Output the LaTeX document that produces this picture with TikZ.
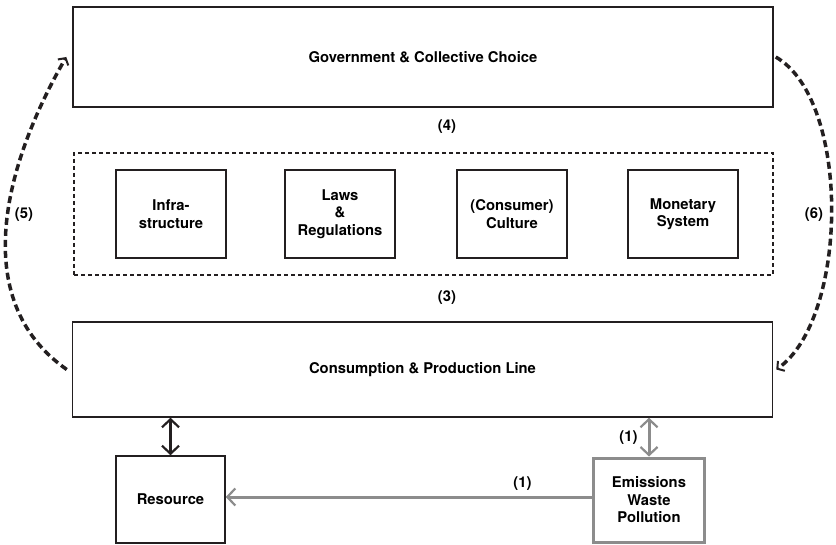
\documentclass[tikz,border=0pt]{standalone}
\usepackage{fontspec}
\setmainfont{TeX Gyre Heros}
\usetikzlibrary{arrows.meta}
\definecolor{ink}{RGB}{35,31,32}
\definecolor{ashgray}{RGB}{140,140,140}
\newcommand{\lblfont}{\fontsize{14.8}{17.5}\selectfont\bfseries}
\tikzset{
  barb/.tip={Straight Barb[length=8pt,width=17pt,line width=2.2pt]},
  bigbox/.style={draw=ink, line width=1.5pt, minimum width=700pt, font=\lblfont},
  groupbox/.style={draw=ink, line width=1.3pt, dash pattern=on 4pt off 3pt, minimum width=699pt, minimum height=122pt},
  smallbox/.style={draw=ink, line width=1.5pt, minimum width=110pt, minimum height=88pt, align=center, font=\lblfont},
  waste/.style={draw=ashgray, line width=3pt, minimum width=111pt, minimum height=84pt, align=center, font=\lblfont},
  tag/.style={font=\lblfont, inner sep=2pt},
  loopline/.style={draw=ink, line width=3.5pt, dash pattern=on 7pt off 4pt, -{Straight Barb[length=5pt,width=12pt,line width=2pt]}},
  resarrow/.style={draw=ink, line width=2.5pt, barb-barb},
  grayarrow/.style={draw=ashgray, line width=3pt, -barb},
  graytwin/.style={draw=ashgray, line width=3pt, barb-barb}
}
\begin{document}
\begin{tikzpicture}[x=1pt,y=1pt]
\useasboundingbox (0,0) rectangle (836,-545);
%top
\node[bigbox, minimum height=100pt] (gov) at (423,-57) {Government \& Collective Choice};
\node[tag] (l4) at (447,-127) {(4)};
%institutions
\node[groupbox] (inst) at (423.5,-214) {};
\node[smallbox] (infra) at (171,-214) {Infra-\\structure};
\node[smallbox] (laws) at (340,-214) {Laws\\\&\\Regulations};
\node[smallbox] (cult) at (512,-214) {(Consumer)\\Culture};
\node[smallbox] (money) at (683,-214) {Monetary\\System};
\node[tag] (l3) at (447,-298) {(3)};
%bottom
\node[bigbox, minimum height=95pt] (cons) at (422.5,-369.5) {Consumption \& Production Line};
\node[smallbox, minimum width=109pt, minimum height=87pt] (res) at (170.5,-499.5) {Resource};
\node[waste] (emis) at (649,-500) {Emissions\\Waste\\Pollution};

\draw[resarrow] (res.north) -- (res.north |- cons.south);
\draw[graytwin] (emis.north) -- node[tag, left=8pt] (l1a) {(1)} (emis.north |- cons.south);
\draw[grayarrow] ([yshift=3pt]emis.west) -- node[tag, pos=0.19, above=3pt] (l1b) {(1)} ([yshift=3pt]emis.west -| res.east);

%loops
\draw[loopline] ([xshift=-5pt]cons.west) to[out=145,in=-120] ([xshift=-6pt]gov.west);
\node[tag] (l5) at (24,-215) {(5)};
\draw[loopline] ([xshift=2pt]gov.east) to[out=-30,in=35,looseness=0.72] ([xshift=3pt]cons.east);
\node[tag] (l6) at (814,-215) {(6)};
\end{tikzpicture}
\end{document}
